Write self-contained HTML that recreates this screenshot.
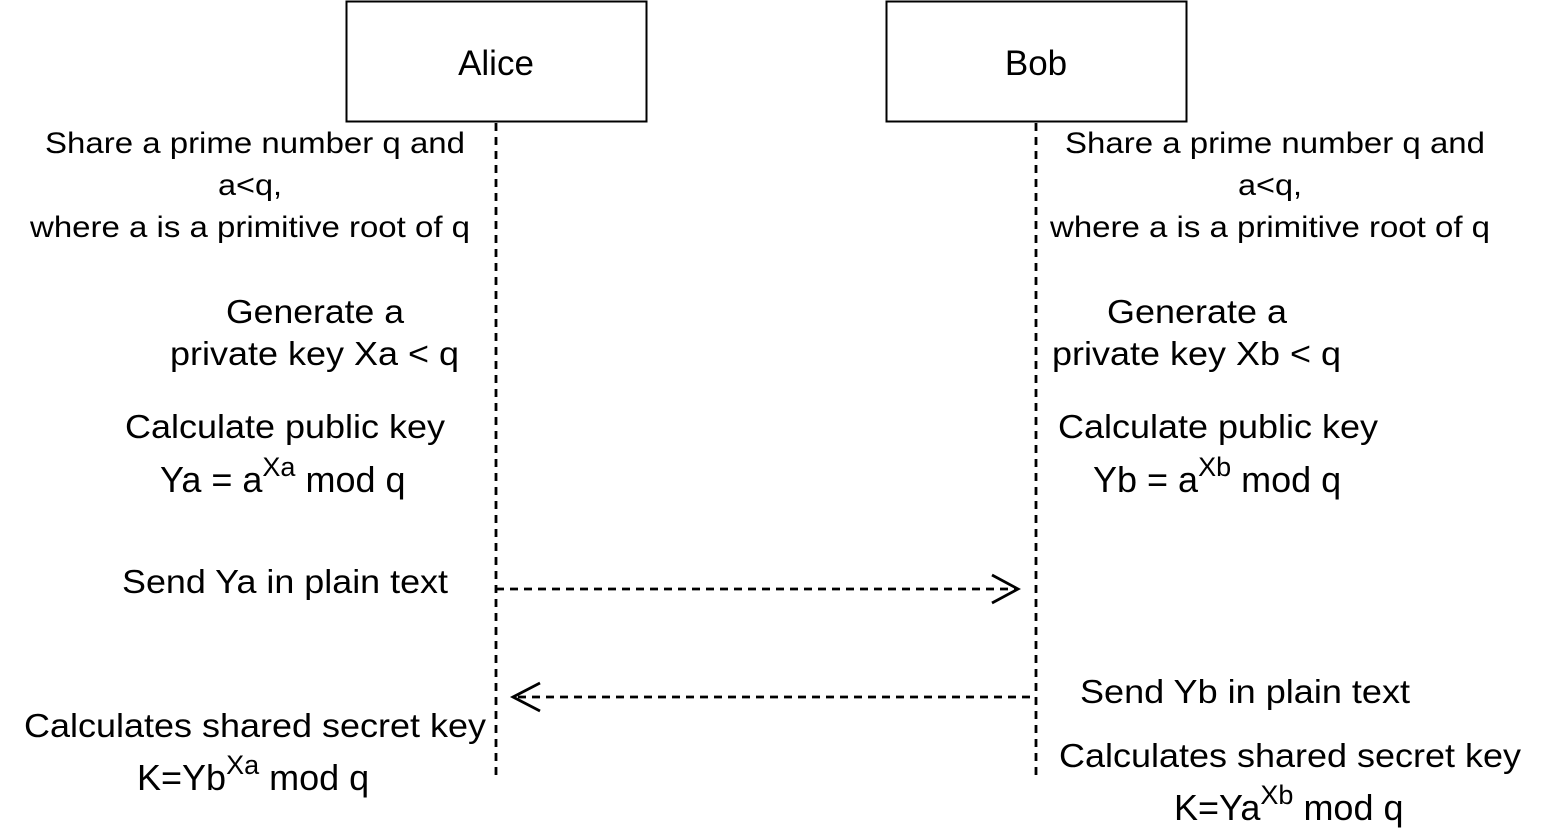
<!DOCTYPE html>
<html><head><meta charset="utf-8"><style>
html,body{margin:0;padding:0;background:#fff;}
svg{display:block;}
text{font-family:"Liberation Sans",Arial,sans-serif;fill:#000;}
</style></head><body>
<svg width="1551" height="831" viewBox="0 0 1551 831" xmlns="http://www.w3.org/2000/svg">
<rect x="346.5" y="1.5" width="300" height="120" fill="#fff" stroke="#000" stroke-width="2"/>
<rect x="886.5" y="1.5" width="300" height="120" fill="#fff" stroke="#000" stroke-width="2"/>
<text x="496" y="75" font-size="35" text-anchor="middle">Alice</text>
<text x="1036" y="75" font-size="35" text-anchor="middle">Bob</text>
<g stroke="#000" stroke-width="2.8" fill="none" stroke-dasharray="8,6">
<line x1="496" y1="123" x2="496" y2="780"/>
<line x1="1036" y1="123" x2="1036" y2="780"/>
<line x1="496" y1="589" x2="1018" y2="589"/>
<line x1="1030" y1="697" x2="516" y2="697"/>
</g>
<g stroke="#000" stroke-width="2.8" fill="none">
<polyline points="992,575 1018,589 992,603"/>
<polyline points="540,683 513,697 540,711"/>
</g>
<g font-size="30" text-anchor="start">
<text x="45" y="153" textLength="420" lengthAdjust="spacingAndGlyphs">Share a prime number q and</text>
<text x="218" y="195" textLength="64" lengthAdjust="spacingAndGlyphs">a&lt;q,</text>
<text x="30" y="237" textLength="440" lengthAdjust="spacingAndGlyphs">where a is a primitive root of q</text>
<text x="1065" y="153" textLength="420" lengthAdjust="spacingAndGlyphs">Share a prime number q and</text>
<text x="1238" y="195" textLength="64" lengthAdjust="spacingAndGlyphs">a&lt;q,</text>
<text x="1050" y="237" textLength="440" lengthAdjust="spacingAndGlyphs">where a is a primitive root of q</text>
</g>
<g font-size="33">
<text x="226" y="323" textLength="178" lengthAdjust="spacingAndGlyphs">Generate a</text>
<text x="170" y="365" textLength="289" lengthAdjust="spacingAndGlyphs">private key Xa &lt; q</text>
<text x="125" y="438" textLength="320" lengthAdjust="spacingAndGlyphs">Calculate public key</text>
<text x="160" y="492" font-size="36">Ya = a<tspan font-size="27" dy="-16">Xa</tspan><tspan dy="16"> mod q</tspan></text>
<text x="122" y="593" textLength="326" lengthAdjust="spacingAndGlyphs">Send Ya in plain text</text>
<text x="24" y="737" textLength="462" lengthAdjust="spacingAndGlyphs">Calculates shared secret key</text>
<text x="137" y="790" font-size="36">K=Yb<tspan font-size="27" dy="-16">Xa</tspan><tspan dy="16"> mod q</tspan></text>

<text x="1107" y="323" textLength="180" lengthAdjust="spacingAndGlyphs">Generate a</text>
<text x="1052" y="365" textLength="289" lengthAdjust="spacingAndGlyphs">private key Xb &lt; q</text>
<text x="1058" y="438" textLength="320" lengthAdjust="spacingAndGlyphs">Calculate public key</text>
<text x="1093" y="492" font-size="36">Yb = a<tspan font-size="27" dy="-16">Xb</tspan><tspan dy="16"> mod q</tspan></text>
<text x="1080" y="703" textLength="330" lengthAdjust="spacingAndGlyphs">Send Yb in plain text</text>
<text x="1059" y="767" textLength="462" lengthAdjust="spacingAndGlyphs">Calculates shared secret key</text>
<text x="1174" y="820" font-size="36">K=Ya<tspan font-size="27" dy="-16">Xb</tspan><tspan dy="16"> mod q</tspan></text>
</g>
</svg>
</body></html>
